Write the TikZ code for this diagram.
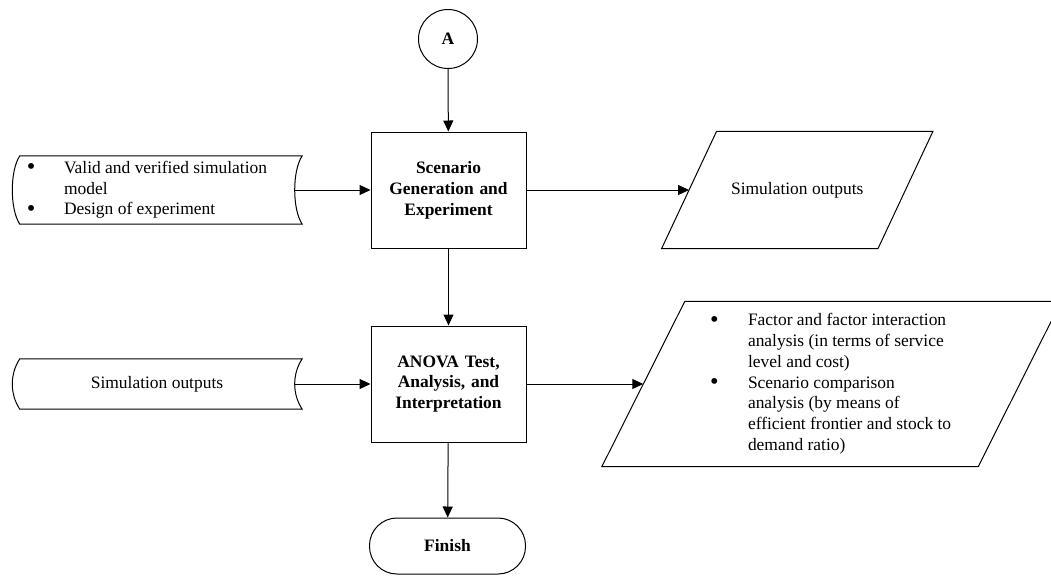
\documentclass[tikz,border=0pt]{standalone}
\usepackage{fontspec}
\setmainfont{Liberation Serif}
\usepackage{array}
\usetikzlibrary{arrows.meta}
\tikzset{
  txt/.style={font=\fontsize{17.45}{20.8}\selectfont},
  bold/.style={font=\fontsize{17.45}{20.8}\selectfont\bfseries},
  procbox/.style={bold,draw,line width=1pt,minimum width=155pt,minimum height=116pt,text width=125pt,align=center},
  hidden/.style={txt,inner sep=0pt},
  flow/.style={line width=1pt,-{Triangle[length=11pt,width=10pt]}},
  outline/.style={line width=1pt}
}
\newcolumntype{L}[1]{>{\raggedright\arraybackslash}p{#1}}
\newcommand{\bul}{\raisebox{-1.5pt}{\scalebox{1.4}{\textbullet}}}
\begin{document}
\begin{tikzpicture}[x=1pt,y=-1pt]
\useasboundingbox (0,0) rectangle (1051,576);
% main column
\node[draw,circle,line width=1pt,minimum size=59pt,bold] (A) at (448,39) {A};
\node[procbox] (scenario) at (448.5,190) {Scenario Generation and Experiment};
\node[procbox] (anova) at (448.5,384) {ANOVA Test, Analysis, and Interpretation};
\node[draw,line width=1pt,rounded corners=27.5pt,minimum width=156pt,minimum height=56pt,bold] (finish) at (447.5,546) {Finish};
%inputs
\node[hidden,minimum width=282pt,minimum height=68pt] (inmodel) at (161,190)
  {\begin{tabular}{@{}L{37pt}@{}L{231pt}@{}}
   \bul & Valid and verified simulation model\\
   \bul & Design of experiment
   \end{tabular}};
\node[hidden,minimum width=282pt,minimum height=50pt] (inoutputs) at (161,384) {\hspace*{-8pt}Simulation outputs};
\foreach \n in {inmodel,inoutputs}
  \draw[outline] (\n.north west) -- (\n.north east)
    .. controls +(-10,15) and +(-10,-15) .. (\n.south east) -- (\n.south west)
    .. controls +(-10,-15) and +(-10,15) .. (\n.north west) -- cycle;
%outputs
\node[hidden,minimum width=216pt,minimum height=117pt] (outsim) at (797.25,190) {Simulation outputs};
\node[hidden,minimum width=376pt,minimum height=165pt] (outanova) at (831.5,384)
  {\begin{tabular}{@{}L{38pt}@{}L{205pt}@{}}
   \bul & Factor and factor interaction analysis (in terms of service level and cost)\\
   \bul & Scenario comparison analysis (by means of efficient frontier and stock to demand ratio)
   \end{tabular}};
\draw[outline] ([xshift=27.5pt]outsim.north west) -- ([xshift=27.5pt]outsim.north east)
  -- ([xshift=-27.5pt]outsim.south east) -- ([xshift=-27.5pt]outsim.south west) -- cycle;
\draw[outline] ([xshift=41.5pt]outanova.north west) -- ([xshift=41.5pt]outanova.north east)
  -- ([xshift=-41.5pt]outanova.south east) -- ([xshift=-41.5pt]outanova.south west) -- cycle;
%arrows
\draw[flow] (A) -- (scenario);
\draw[flow] (scenario) -- (anova);
\draw[flow] (anova) -- (finish);
\draw[flow] ([xshift=-7.5pt]inmodel.east) -- (scenario.west);
\draw[flow] ([xshift=-7.5pt]inoutputs.east) -- (anova.west);
\draw[flow] (scenario.east) -- (outsim.west);
\draw[flow] (anova.east) -- (outanova.west);
\end{tikzpicture}
\end{document}
